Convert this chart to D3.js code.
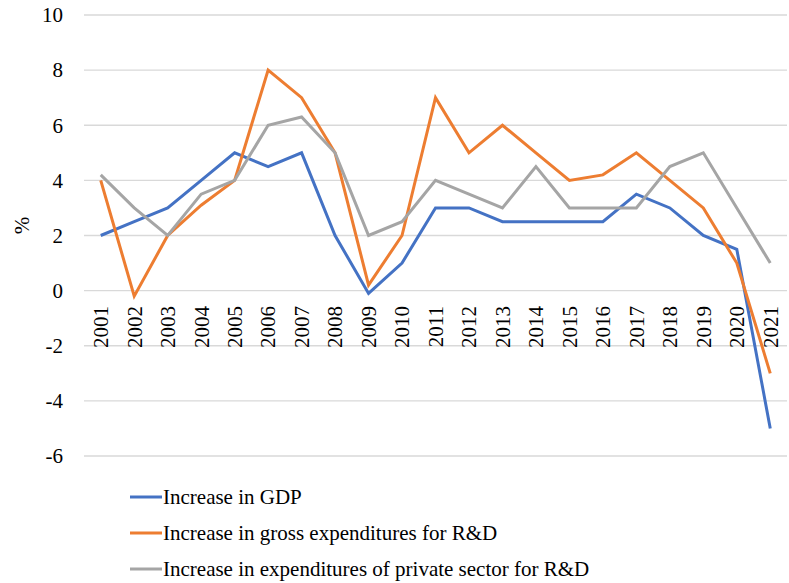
<!DOCTYPE html>
<html><head><meta charset="utf-8">
<script src="https://cdn.jsdelivr.net/npm/d3@7"></script>
<style>body{margin:0;background:#fff}svg{display:block}</style>
</head><body>
<svg id="c" width="789" height="583"></svg>
<script>
const years = ["2001","2002","2003","2004","2005","2006","2007","2008","2009","2010","2011","2012","2013","2014","2015","2016","2017","2018","2019","2020","2021"];
const gdp = [2,2.5,3,4,5,4.5,5,2,-0.1,1,3,3,2.5,2.5,2.5,2.5,3.5,3,2,1.5,-5];
const grossRD = [4,-0.2,2,3.1,4,8,7,5,0.2,2,7,5,6,5,4,4.2,5,4,3,1,-3];
const privateRD = [4.2,3,2,3.5,4,6,6.3,5,2,2.5,4,3.5,3,4.5,3,3,3,4.5,5,3,1];
const yTicks = [10,8,6,4,2,0,-2,-4,-6];
const seriesNames = ["Increase in GDP","Increase in gross expenditures for R&D","Increase in expenditures of private sector for R&D"];
const colors = ["#4472C4","#ED7D31","#A5A5A5"];
const FONT = "'Liberation Serif'";
const FS = 21;

const svg = d3.select("#c");
const x = d3.scaleBand().domain(years).range([84,787]);
const y = d3.scaleLinear().domain([-6,10]).range([456,15]);

svg.append("g").selectAll("line").data(yTicks).join("line")
  .attr("x1",84).attr("x2",787).attr("y1",d=>y(d)).attr("y2",d=>y(d))
  .attr("stroke","#D9D9D9").attr("stroke-width",1.3);

svg.append("g").selectAll("text").data(yTicks).join("text")
  .attr("x",63).attr("y",d=>y(d)).attr("dy","0.35em").attr("text-anchor","end")
  .style("font-family",FONT).style("font-size",FS+"px").text(d=>d);

svg.append("text").attr("transform","translate(22,"+(y(2)-10)+") rotate(-90)")
  .attr("dy","0.35em").attr("text-anchor","middle")
  .style("font-family",FONT).style("font-size",FS+"px").text("%");

svg.append("g").selectAll("text").data(years).join("text")
  .attr("transform",d=>"translate("+(x(d)+x.bandwidth()/2)+",306) rotate(-90)")
  .attr("dy","0.35em").attr("text-anchor","end")
  .style("font-family",FONT).style("font-size",FS+"px").text(d=>d);

const line = d3.line().x((d,i)=>x(years[i])+x.bandwidth()/2).y(d=>y(d));
[gdp,grossRD,privateRD].forEach((s,k)=>{
  svg.append("path").datum(s).attr("d",line).attr("fill","none")
    .attr("stroke",colors[k]).attr("stroke-width",3).attr("stroke-linejoin","miter");
});

const lg = svg.append("g").selectAll("g").data(seriesNames).join("g")
  .attr("transform",(d,i)=>"translate(130,"+(497+i*36)+")");
lg.append("line").attr("x1",0).attr("x2",32).attr("stroke",(d,i)=>colors[i]).attr("stroke-width",3);
lg.append("text").attr("x",33).attr("dy","0.35em")
  .style("font-family",FONT).style("font-size",FS+"px").text(d=>d);
</script>
</body></html>
